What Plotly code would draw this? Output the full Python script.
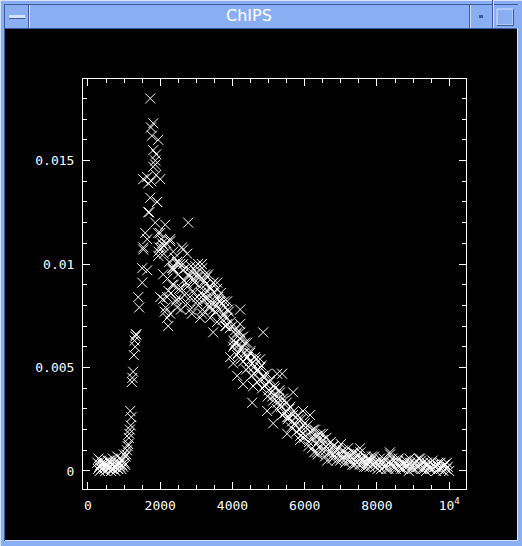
import plotly.graph_objects as go

# ---------------- data ----------------
# flat low part
low_pts = [(260,0.0004),(290,0.0006),(310,0.0002),(340,0.0003),(360,0.0005),(380,0.0001),(410,0.0003),
           (430,0.0002),(460,0.0004),(480,0.0000),(510,0.0002),(530,0.0003),(560,0.0001),(590,0.0005),
           (610,0.0002),(640,0.0000),(660,0.0003),(690,0.0006),(710,0.0001),(740,0.0002),(760,0.0000),
           (790,0.0003),(810,0.0007),(840,0.0001),(860,0.0004),(890,0.0002),(910,0.0006),(940,0.0003),
           (960,0.0005),(990,0.0008),(1010,0.0004),(1040,0.0007),
           (275,0.0001),(325,0.0000),(395,0.0004),(445,0.0001),(495,0.0003),(545,0.0005),(575,0.0002),
           (625,0.0004),(675,0.0001),(725,0.0004),(775,0.0002),(825,0.0001),(875,0.0003),(925,0.0001),
           (975,0.0002),(1025,0.0003)]

# steep rise
rise_pts = [(1060,0.0008),(1080,0.0010),(1100,0.0012),(1115,0.0013),(1130,0.0016),(1145,0.0018),
            (1160,0.0020),(1170,0.0029),(1185,0.0022),(1200,0.0026),(1215,0.0043),(1230,0.0045),
            (1250,0.0048),(1270,0.0056),(1290,0.0063),(1310,0.0065),(1330,0.0066)]

# individually read points (peak, band, decline)
read_pts = [(1336,0.0066),(1308,0.0060),(1419,0.0079),(1391,0.0084),(1502,0.0091),(1502,0.0098),
            (1640,0.0097),(1530,0.0107),(1585,0.0115),(1640,0.0112),(1696,0.0125),(1862,0.0120),
            (2000,0.0115),(1917,0.0130),(1723,0.0180),(1806,0.0168),(1743,0.0166),(1770,0.0162),
            (1945,0.0160),(1862,0.0150),(1806,0.0147),(1862,0.0148),(1530,0.0141),(1668,0.0139),
            (2000,0.0141),(1723,0.0132),(1909,0.0130),(1668,0.0125),(2138,0.0119),(2774,0.0120),
            (1945,0.0115),(2276,0.0112),(2047,0.0108),(1530,0.0108),(2600,0.0108),(2360,0.0106),
            (1806,0.0155),(1889,0.0153),(1640,0.0142),(1750,0.0140),(1890,0.0143),
            (2088,0.0109),(2276,0.0111),(1945,0.0104),(2636,0.0107),(2747,0.0105),(2470,0.0101),
            (2360,0.0098),(2636,0.0100),(3050,0.0100),(3161,0.0098),(2885,0.0096),(3023,0.0094),
            (3299,0.0094),(3576,0.0091),(2083,0.0095),(2332,0.0090),(2747,0.0089),(3023,0.0084),
            (3299,0.0084),(2193,0.0084),(2553,0.0083),(2470,0.0079),(3604,0.0083),(3853,0.0082),
            (2830,0.0078),(3161,0.0076),(3465,0.0078),(3742,0.0075),(4213,0.0078),(2193,0.0074),
            (3106,0.0074),(2221,0.0070),(3383,0.0074),(3576,0.0072),(3853,0.0071),(4213,0.0071),
            (3465,0.0067),(4130,0.0067),(4296,0.0065),(4849,0.0067),(4074,0.0062),(4406,0.0062),
            (3153,0.0100),(3245,0.0095),(3466,0.0091),(3189,0.0083),(3383,0.0079),(3660,0.0082),
            (3798,0.0070),(4213,0.0067),(4019,0.0060),(3936,0.0055),(4019,0.0052),(4489,0.0057),
            (4766,0.0054),(4130,0.0046),(4296,0.0042),(4572,0.0041),(5237,0.0047),(5375,0.0047),
            (4545,0.0033),(4960,0.0029),(5319,0.0038),(5679,0.0038),(5126,0.0023),(5513,0.0026),
            (5955,0.0029),(6149,0.0027),(5513,0.0018),(5872,0.0015),(6232,0.0020),(6509,0.0018),
            (6343,0.0009),(6620,0.0005),(6785,0.0012),(7062,0.0007),(7338,0.0009),(7532,0.0011),
            (7725,0.0005),(8362,0.0008),(9192,0.0006)]

# broad band 2000-4000
mid_pts = [(1950,0.0106),(2000,0.0084),(2050,0.0110),(2100,0.0105),(2150,0.0079),(2200,0.0093),
           (2250,0.0101),(2300,0.0086),(2350,0.0097),(2400,0.0103),(2450,0.0083),(2500,0.0095),
           (2550,0.0100),(2600,0.0088),(2650,0.0092),(2700,0.0098),(2750,0.0081),(2800,0.0094),
           (2850,0.0099),(2900,0.0087),(2950,0.0091),(3000,0.0096),(3050,0.0080),(3100,0.0089),
           (3150,0.0093),(3200,0.0085),(3250,0.0090),(3300,0.0087),(3350,0.0079),(3400,0.0088),
           (3450,0.0083),(3500,0.0086),(3550,0.0080),(3600,0.0084),(3650,0.0078),(3700,0.0081),
           (3750,0.0076),(3800,0.0079),(3850,0.0074),(3900,0.0077),(3950,0.0072),
           (1975,0.0108),(2025,0.0112),(2075,0.0083),(2125,0.0077),(2175,0.0110),(2225,0.0087),
           (2275,0.0076),(2325,0.0098),(2375,0.0090),(2425,0.0082),(2475,0.0100),(2525,0.0088),
           (2575,0.0078),(2625,0.0097),(2675,0.0085),(2725,0.0091),(2775,0.0095),(2825,0.0084),
           (2875,0.0076),(2925,0.0093),(2975,0.0099),(3025,0.0082),(3075,0.0094),(3125,0.0086),
           (3175,0.0078),(3225,0.0092),(3275,0.0083),(3325,0.0095),(3375,0.0089),(3425,0.0081),
           (3475,0.0091),(3525,0.0077),(3575,0.0088),(3625,0.0082),(3675,0.0086),(3725,0.0073),
           (3775,0.0082),(3825,0.0070),(3875,0.0078),(3925,0.0069)]

# decline 4000-6000
fall_pts = [(4000,0.0070),(4050,0.0061),(4100,0.0066),(4150,0.0057),(4200,0.0064),(4250,0.0059),
            (4300,0.0053),(4350,0.0062),(4400,0.0055),(4450,0.0050),(4500,0.0058),(4550,0.0052),
            (4600,0.0047),(4650,0.0054),(4700,0.0049),(4750,0.0044),(4800,0.0051),(4850,0.0046),
            (4900,0.0041),(4950,0.0047),(5000,0.0039),(5050,0.0044),(5100,0.0036),(5150,0.0041),
            (5200,0.0037),(5250,0.0033),(5300,0.0039),(5350,0.0031),(5400,0.0035),(5450,0.0028),
            (5500,0.0033),(5550,0.0026),(5600,0.0031),(5650,0.0024),(5700,0.0029),(5750,0.0022),
            (5800,0.0027),(5850,0.0020),(5900,0.0025),(5950,0.0018),(6000,0.0023),
            (4025,0.0063),(4075,0.0068),(4125,0.0056),(4175,0.0061),(4225,0.0054),(4275,0.0060),
            (4325,0.0057),(4375,0.0049),(4425,0.0055),(4475,0.0053),(4525,0.0046),(4575,0.0050),
            (4625,0.0055),(4675,0.0043),(4725,0.0048),(4775,0.0050),(4825,0.0040),(4875,0.0045),
            (4925,0.0042),(4975,0.0036),(5025,0.0043),(5075,0.0038),(5125,0.0034),(5175,0.0040),
            (5225,0.0030),(5275,0.0035),(5325,0.0032),(5375,0.0027),(5425,0.0034),(5475,0.0029),
            (5525,0.0025),(5575,0.0030),(5625,0.0021),(5675,0.0027),(5725,0.0023),(5775,0.0019),
            (5825,0.0025),(5875,0.0017),(5925,0.0021),(5975,0.0016)]

# long tail 6000-10000
tail_pts = [(6040,0.0017),(6080,0.0022),(6120,0.0014),(6160,0.0019),(6200,0.0011),(6240,0.0016),
            (6280,0.0020),(6320,0.0013),(6360,0.0008),(6400,0.0015),(6440,0.0018),(6480,0.0010),
            (6520,0.0013),(6560,0.0007),(6600,0.0016),(6640,0.0011),(6680,0.0009),(6720,0.0014),
            (6760,0.0006),(6800,0.0012),(6840,0.0009),(6880,0.0005),(6920,0.0011),(6960,0.0008),
            (7000,0.0013),(7040,0.0006),(7080,0.0009),(7120,0.0004),(7160,0.0008),(7200,0.0011),
            (7240,0.0005),(7280,0.0007),(7320,0.0003),(7360,0.0009),(7400,0.0006),(7440,0.0004),
            (7480,0.0008),(7520,0.0003),(7560,0.0006),(7600,0.0005),(7640,0.0002),(7680,0.0007),
            (7720,0.0004),(7760,0.0006),(7800,0.0002),(7840,0.0005),(7880,0.0003),(7920,0.0007),
            (7960,0.0002),(8000,0.0004),
            (8040,0.0003),(8080,0.0006),(8120,0.0001),(8160,0.0004),(8200,0.0002),(8240,0.0005),
            (8280,0.0003),(8320,0.0001),(8360,0.0009),(8400,0.0004),(8440,0.0002),(8480,0.0005),
            (8520,0.0001),(8560,0.0003),(8600,0.0006),(8640,0.0002),(8680,0.0004),(8720,0.0001),
            (8760,0.0003),(8800,0.0005),(8840,0.0002),(8880,0.0000),(8920,0.0004),(8960,0.0002),
            (9000,0.0003),(9040,0.0001),(9080,0.0005),(9120,0.0002),(9160,0.0006),(9200,0.0003),
            (9240,0.0001),(9280,0.0004),(9320,0.0002),(9360,0.0000),(9400,0.0003),(9440,0.0002),
            (9480,0.0004),(9520,0.0001),(9560,0.0003),(9600,0.0002),(9640,0.0000),(9680,0.0003),
            (9720,0.0001),(9760,0.0004),(9800,0.0002),(9840,0.0000),(9880,0.0003),(9920,0.0001),
            (9960,0.0002),(10000,0.0000),
            (6020,0.0021),(6100,0.0012),(6180,0.0016),(6260,0.0009),(6340,0.0017),(6420,0.0012),
            (6500,0.0015),(6580,0.0010),(6660,0.0013),(6740,0.0009),(6820,0.0007),(6900,0.0010),
            (6980,0.0005),(7060,0.0010),(7140,0.0006),(7220,0.0008),(7300,0.0005),(7380,0.0003),
            (7460,0.0006),(7540,0.0009),(7620,0.0004),(7700,0.0002),(7780,0.0005),(7860,0.0007),
            (7940,0.0004),(8020,0.0001),(8100,0.0004),(8180,0.0006),(8260,0.0001),(8340,0.0004),
            (8420,0.0006),(8500,0.0002),(8580,0.0005),(8660,0.0001),(8740,0.0004),(8820,0.0003),
            (8900,0.0006),(8980,0.0001),(9060,0.0004),(9140,0.0002),(9220,0.0005),(9300,0.0001),
            (9380,0.0004),(9460,0.0001),(9540,0.0005),(9620,0.0002),(9700,0.0004),(9780,0.0001),
            (9860,0.0003),(9940,0.0004)]

x_tickvals = [0, 2000, 4000, 6000, 8000, 10000]
x_ticktext = ["0", "2000", "4000", "6000", "8000", "10<sup>4</sup>"]
y_tickvals = [0, 0.005, 0.01, 0.015]
y_ticktext = ["0", "0.005", "0.01", "0.015"]
window_title = "ChIPS"

all_pts = low_pts + rise_pts + read_pts + mid_pts + fall_pts + tail_pts
xs = [p[0] for p in all_pts]
ys = [p[1] for p in all_pts]

# ---------------- figure ----------------
W, H = 522, 546
L, R, T, B = 83, 466, 79, 489   # plot-area pixel box


def px(xp):
    return (xp - L) / (R - L)


def py(yp):
    return (B - yp) / (B - T)


FRAME = "#8aaef2"
DARK = "#3d5c9e"
LIGHT = "#d4e2ff"

fig = go.Figure()
fig.add_trace(go.Scatter(
    x=xs, y=ys, mode="markers",
    marker=dict(symbol="x-thin-open", size=10, color="white",
                line=dict(color="white", width=1)),
    hoverinfo="skip", showlegend=False, cliponaxis=True))

axis_common = dict(
    showline=True, linecolor="white", linewidth=1, mirror="ticks",
    ticks="inside", tickcolor="white", tickwidth=1, ticklen=7,
    showgrid=False, zeroline=False,
    tickfont=dict(family="DejaVu Sans Mono", size=13, color="#ffffff"),
)

fig.update_xaxes(range=[-138, 10465], tickmode="array", tickvals=x_tickvals,
                 ticktext=x_ticktext, ticklabelstandoff=4,
                 minor=dict(ticks="inside", ticklen=4, dtick=500, tick0=0,
                            tickcolor="white", tickwidth=1, showgrid=False),
                 **axis_common)
fig.update_yaxes(range=[-0.00087, 0.01894], tickmode="array", tickvals=y_tickvals,
                 ticktext=y_ticktext, ticklabelstandoff=5,
                 minor=dict(ticks="inside", ticklen=4, dtick=0.001, tick0=0,
                            tickcolor="white", tickwidth=1, showgrid=False),
                 **axis_common)

shapes = []


def rect(x0, y0, x1, y1, color, line=None):
    shapes.append(dict(type="rect", xref="paper", yref="paper",
                       x0=px(x0), x1=px(x1), y0=py(y1), y1=py(y0),
                       fillcolor=color, line=dict(width=0) if line is None else line,
                       layer="above"))


def hline(x0, x1, y, color):
    rect(x0, y, x1, y + 1, color)


def vline(x, y0, y1, color):
    rect(x, y0, x + 1, y1, color)


# window frame
rect(0, 0, W, 29, FRAME)          # title bar
rect(0, 0, 5, H, FRAME)           # left border
rect(517, 0, W, H, FRAME)         # right border
rect(0, 540, W, H, FRAME)         # bottom border
hline(0, W, 0, LIGHT)
vline(0, 0, H, LIGHT)
hline(4, 518, 4, DARK)
vline(4, 4, 541, DARK)
hline(5, 517, 28, DARK)
vline(517, 28, 541, LIGHT)
hline(5, 518, 540, LIGHT)
# title bar separators
vline(28, 5, 28, DARK)
vline(29, 5, 28, LIGHT)
vline(469, 5, 28, DARK)
vline(470, 5, 28, LIGHT)
vline(492, 0, 28, DARK)
vline(493, 0, 28, LIGHT)
# left button (dash)
rect(9, 15, 25, 18, LIGHT)
hline(9, 25, 18, DARK)
# small square
rect(479, 15, 483, 18, DARK)
# right box
rect(497, 9, 513, 25, FRAME, line=dict(color=LIGHT, width=1))
hline(497, 514, 25, DARK)
vline(513, 9, 26, DARK)

fig.update_layout(
    width=W, height=H,
    margin=dict(l=L, r=W - R, t=T, b=H - B, pad=0),
    paper_bgcolor="black", plot_bgcolor="black",
    shapes=shapes,
    annotations=[dict(text=window_title, xref="paper", yref="paper",
                      x=px(249), y=py(15), xanchor="center", yanchor="middle",
                      showarrow=False,
                      font=dict(family="DejaVu Sans", size=16, color="white"))],
)

fig.write_html("out.html", config={"displayModeBar": False},
               post_script="document.body.style.margin='0';document.body.style.padding='0';")
